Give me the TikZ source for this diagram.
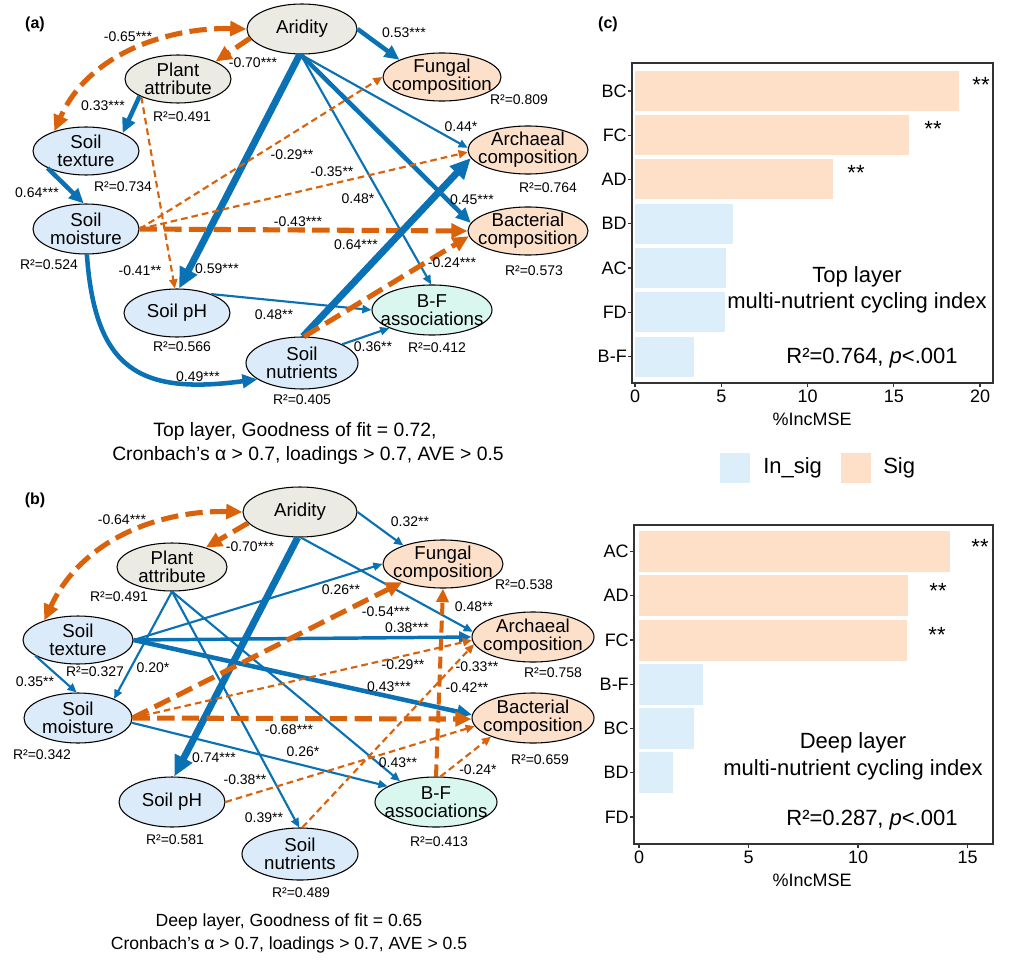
\documentclass[tikz,border=0pt]{standalone}
\usepackage{fontspec}
\setmainfont{Liberation Sans}
\usetikzlibrary{arrows.meta,shapes.geometric}
\definecolor{eblue}{HTML}{0A72B4}
\definecolor{eorg}{HTML}{D9620B}
\definecolor{fgray}{HTML}{EBEBE3}
\definecolor{fblue}{HTML}{DCEBF9}
\definecolor{forg}{HTML}{FCE0CA}
\definecolor{fmint}{HTML}{D9F7EF}
\definecolor{bsig}{HTML}{FDE0C7}
\definecolor{bins}{HTML}{DDEEFB}
\begin{document}
\begin{tikzpicture}[x=0.75pt,y=-0.75pt,
  mytip/.tip={Triangle[length=3pt 2.4,width=2.5pt 2.2]},
  elp/.style={ellipse,draw=black,line width=0.8pt,inner sep=0pt},
  sz/.style 2 args={minimum width=#1*1.5pt,minimum height=#2*1.5pt},
  ntext/.style={align=center,inner sep=0pt,font=\fontsize{14}{13.5}\selectfont},
  lab/.style={inner sep=0pt,font=\fontsize{10.5}{12}\selectfont},
  capa/.style={inner sep=0pt,font=\fontsize{14.5}{16}\selectfont},
  capb/.style={inner sep=0pt,font=\fontsize{13.2}{15}\selectfont},
  plab/.style={inner sep=0pt,font=\fontsize{12}{14}\selectfont\bfseries},
  ctext/.style={inner sep=0pt,font=\fontsize{16.5}{18}\selectfont},
  tk/.style={inner sep=0pt,font=\fontsize{13.5}{15}\selectfont},
  pedge/.style={draw=eblue,-mytip},
  w1/.style={line width=1.6pt},
  w2/.style={line width=2.6pt},
  w3/.style={line width=3.4pt},
  w4/.style={line width=5.2pt},
  nthin/.style={draw=eorg,-mytip,line width=1.6pt,dash pattern=on 5pt off 3pt},
  nmid/.style={draw=eorg,-mytip,line width=3pt,dash pattern=on 9pt off 4.5pt},
  nthick/.style={draw=eorg,-mytip,line width=3.8pt,dash pattern=on 13pt off 5.5pt}
]
\fill[white] (0,0) rectangle (1012,966);
\useasboundingbox (0,0) rectangle (1012,966);

% ---------------- panel (a)
\node[plab] (pa) at (35,24) {(a)};
\node[elp,fill=fgray,sz={55}{25},label={[ntext]center:Aridity}] (ar) at (302,29) {};
\node[elp,fill=fgray,sz={53}{24},label={[ntext]center:{Plant\\attribute}}] (pl) at (178,79) {};
\node[elp,fill=fblue,sz={53}{24},label={[ntext]center:{Soil\\texture}}] (tx) at (86,151) {};
\node[elp,fill=fblue,sz={53}{25},label={[ntext]center:{Soil\\moisture}}] (mo) at (86,229) {};
\node[elp,fill=forg,sz={59}{24},label={[ntext]center:{Fungal\\composition}}] (fu) at (442,77) {};
\node[elp,fill=forg,sz={60}{24},label={[ntext]center:{Archaeal\\composition}}] (ac) at (528,150) {};
\node[elp,fill=forg,sz={60}{24},label={[ntext]center:{Bacterial\\composition}}] (ba) at (528,231) {};
\node[elp,fill=fblue,sz={53}{24},label={[ntext]center:{Soil pH}}] (ph) at (177,313) {};
\node[elp,fill=fmint,sz={60}{25},label={[ntext]center:{B-F\\associations}}] (bf) at (432,310) {};
\node[elp,fill=fblue,sz={56}{26},label={[ntext]center:{Soil\\nutrients}}] (nu) at (302,363) {};

\draw[nthick,mytip-mytip] (ar.west) .. controls (175,27) and (90,50) .. (tx.148);
\draw[nthick] (ar.190) -- (pl.25);
\draw[pedge,w3] (pl.204) -- (tx.26);
\draw[pedge,w3] (tx.204) -- (mo.95);
\draw[nthin] (pl.206) -- (ph.95);
\draw[pedge,w4] (ar.-95) -- (ph.85);
\draw[pedge,w3] (ar.east) -- (fu.158);
\draw[pedge,w1] (ar.-93) -- (ac.178);
\draw[pedge,w3] (ar.-93) -- (ba.172);
\draw[pedge,w1] (ar.-93) -- (bf.92);
\draw[nthin] (mo.east) -- (fu.west);
\draw[nthin] (mo.east) -- (ac.182);
\draw[nthick] (mo.east) -- (ba.west);
\draw[pedge,w3] (mo.-88) .. controls (95,370) and (140,395) .. (nu.200);
\draw[pedge,w1] (ph.29) -- (bf.west);
\draw[pedge,w1] (nu.25) -- (bf.203);
\draw[pedge,w4] (nu.88) -- (ac.188);
\draw[nthick] (nu.85) -- (ba.185);

\node[lab] (a1) at (128,37) {-0.65***};
\node[lab] (a2) at (253,63) {-0.70***};
\node[lab] (a3) at (103,106) {0.33***};
\node[lab] (a4) at (37,193) {0.64***};
\node[lab] (a5) at (182,117) {R²=0.491};
\node[lab] (a6) at (123,187) {R²=0.734};
\node[lab] (a7) at (404,33) {0.53***};
\node[lab] (a8) at (519,100) {R²=0.809};
\node[lab] (a9) at (461,127) {0.44*};
\node[lab] (a10) at (292,155) {-0.29**};
\node[lab] (a11) at (332,172) {-0.35**};
\node[lab] (a12) at (358,199) {0.48*};
\node[lab] (a13) at (548,188) {R²=0.764};
\node[lab] (a14) at (472,200) {0.45***};
\node[lab] (a15) at (298,222) {-0.43***};
\node[lab] (a16) at (356,245) {0.64***};
\node[lab] (a17) at (49,265) {R²=0.524};
\node[lab] (a18) at (140,271) {-0.41**};
\node[lab] (a19) at (217,269) {0.59***};
\node[lab] (a20) at (452,263) {-0.24***};
\node[lab] (a21) at (534,271) {R²=0.573};
\node[lab] (a22) at (274,315) {0.48**};
\node[lab] (a23) at (182,347) {R²=0.566};
\node[lab] (a24) at (373,347) {0.36**};
\node[lab] (a25) at (437,348) {R²=0.412};
\node[lab] (a26) at (198,377) {0.49***};
\node[lab] (a27) at (302,400) {R²=0.405};
\node[capa] (ca1) at (295,431) {Top layer, Goodness of fit = 0.72,};
\node[capa] (ca2) at (308,455) {Cronbach’s α > 0.7, loadings > 0.7, AVE > 0.5};

% ---------------- panel (b)
\node[plab] (pb) at (35,500) {(b)};
\node[elp,fill=fgray,sz={57}{25},label={[ntext]center:Aridity}] (ar2) at (300,512) {};
\node[elp,fill=fgray,sz={55}{24},label={[ntext]center:{Plant\\attribute}}] (pl2) at (172,567) {};
\node[elp,fill=fblue,sz={55}{24},label={[ntext]center:{Soil\\texture}}] (tx2) at (78,640) {};
\node[elp,fill=fblue,sz={54}{25},label={[ntext]center:{Soil\\moisture}}] (mo2) at (78,718) {};
\node[elp,fill=forg,sz={60}{24},label={[ntext]center:{Fungal\\composition}}] (fu2) at (443,564) {};
\node[elp,fill=forg,sz={61}{25},label={[ntext]center:{Archaeal\\composition}}] (ac2) at (533,637) {};
\node[elp,fill=forg,sz={61}{25},label={[ntext]center:{Bacterial\\composition}}] (ba2) at (533,718) {};
\node[elp,fill=fblue,sz={53}{25},label={[ntext]center:{Soil pH}}] (ph2) at (172,802) {};
\node[elp,fill=fmint,sz={61}{25},label={[ntext]center:{B-F\\associations}}] (bf2) at (436,802) {};
\node[elp,fill=fblue,sz={58}{26},label={[ntext]center:{Soil\\nutrients}}] (nu2) at (300,854) {};

\draw[nthick,mytip-mytip] (ar2.west) .. controls (170,510) and (85,533) .. (tx2.150);
\draw[nthick] (ar2.192) -- (pl2.30);
\draw[pedge,w1] (tx2.200) -- (mo2.93);
\draw[pedge,w1] (pl2.south) -- (mo2.28);
\draw[pedge,w1] (pl2.south) -- (nu2.92);
\draw[pedge,w1] (pl2.south) -- (bf2.150);
\draw[pedge,w1] (mo2.-5) -- (bf2.162);
\draw[pedge,w1] (tx2.east) -- (fu2.west);
\draw[pedge,w2] (tx2.east) -- (ac2.180);
\draw[pedge,w3] (tx2.east) -- (ba2.177);
\draw[pedge,w1] (ar2.east) -- (fu2.155);
\draw[pedge,w4] (ar2.-95) -- (ph2.85);
\draw[pedge,w1] (ar2.-88) -- (ac2.175);
\draw[nthick] (mo2.east) -- (fu2.204);
\draw[nthin] (mo2.east) -- (ac2.183);
\draw[nthick] (mo2.east) -- (ba2.181);
\draw[nmid] (bf2.north) -- (fu2.south);
\draw[nthin] (bf2.80) -- (ba2.204);
\draw[nthin] (nu2.85) -- (ac2.187);
\draw[nthin] (ph2.east) -- (ba2.188);

\node[lab] (b1) at (122,520) {-0.64***};
\node[lab] (b2) at (250,547) {-0.70***};
\node[lab] (b3) at (119,597) {R²=0.491};
\node[lab] (b4) at (410,522) {0.32**};
\node[lab] (b5) at (524,585) {R²=0.538};
\node[lab] (b6) at (341,590) {0.26**};
\node[lab] (b7) at (386,612) {-0.54***};
\node[lab] (b8) at (474,607) {0.48**};
\node[lab] (b9) at (407,628) {0.38***};
\node[lab] (b10) at (95,672) {R²=0.327};
\node[lab] (b11) at (35,682) {0.35**};
\node[lab] (b12) at (153,668) {0.20*};
\node[lab] (b13) at (403,665) {-0.29**};
\node[lab] (b14) at (477,667) {-0.33**};
\node[lab] (b15) at (553,673) {R²=0.758};
\node[lab] (b16) at (389,687) {0.43***};
\node[lab] (b17) at (467,688) {-0.42**};
\node[lab] (b18) at (289,730) {-0.68***};
\node[lab] (b19) at (42,755) {R²=0.342};
\node[lab] (b20) at (303,752) {0.26*};
\node[lab] (b21) at (214,758) {0.74***};
\node[lab] (b22) at (540,760) {R²=0.659};
\node[lab] (b23) at (398,763) {0.43**};
\node[lab] (b24) at (478,770) {-0.24*};
\node[lab] (b25) at (245,780) {-0.38**};
\node[lab] (b26) at (264,818) {0.39**};
\node[lab] (b27) at (175,840) {R²=0.581};
\node[lab] (b28) at (439,842) {R²=0.413};
\node[lab] (b29) at (301,893) {R²=0.489};
\node[capb] (cb1) at (289,922) {Deep layer, Goodness of fit = 0.65};
\node[capb] (cb2) at (289,945) {Cronbach’s α > 0.7, loadings > 0.7, AVE > 0.5};

% ---------------- panel (c)
\node[plab] (pc) at (608,24) {(c)};
% top chart
\foreach \lab/\v/\c [count=\i from 0] in {BC/18.8/bsig,FC/15.9/bsig,AD/11.5/bsig,BD/5.7/bins,AC/5.3/bins,FD/5.2/bins,B-F/3.4/bins}{
  \pgfmathsetmacro{\yc}{91+44.25*\i}
  \fill[\c] (635,\yc-20) rectangle ({635+17.25*\v},\yc+20);
  \draw[line width=0.8pt,black!80] (628,\yc) -- (632,\yc);
  \node[tk,anchor=east] (ty\i) at (627,\yc) {\lab};
}
\draw[line width=1.1pt,black!80] (632,63) rectangle (993,383);
\foreach \k [count=\j from 0] in {0,5,10,15,20}{
  \draw[line width=0.8pt,black!80] ({635+17.25*\k},383) -- ({635+17.25*\k},387);
  \node[tk] (tx\j) at ({635+17.25*\k},396) {\k};
}
\node[tk] (tmse) at (812,419) {\%IncMSE};
\node[ctext,anchor=base] (ts1) at (981,93) {**};
\node[ctext,anchor=base] (ts2) at (933,137) {**};
\node[ctext,anchor=base] (ts3) at (856,181) {**};
\node[ctext] (tt1) at (857,277) {Top layer};
\node[ctext] (tt2) at (857,303) {multi-nutrient cycling index};
\node[ctext] (tt3) at (872,358) {R²=0.764, \textit{p}<.001};
% legend
\fill[bins] (720,453) rectangle (750,483);
\node[ctext,anchor=west] (lg1) at (763,468) {In\_sig};
\fill[bsig] (841,453) rectangle (871,483);
\node[ctext,anchor=west] (lg2) at (883,468) {Sig};
% bottom chart
\foreach \lab/\v/\c [count=\i from 0] in {AC/14.2/bsig,AD/12.3/bsig,FC/12.25/bsig,B-F/2.9/bins,BC/2.5/bins,BD/1.55/bins,FD/0/bins}{
  \pgfmathsetmacro{\yc}{551.5+44.25*\i}
  \fill[\c] (639,\yc-20.5) rectangle ({639+21.9*\v},\yc+20.5);
  \draw[line width=0.8pt,black!80] (630,\yc) -- (634,\yc);
  \node[tk,anchor=east] (by\i) at (629,\yc) {\lab};
}
\draw[line width=1.1pt,black!80] (634,525) rectangle (993,844);
\foreach \k [count=\j from 0] in {0,5,10,15}{
  \draw[line width=0.8pt,black!80] ({639+21.9*\k},844) -- ({639+21.9*\k},848);
  \node[tk] (bx\j) at ({639+21.9*\k},857) {\k};
}
\node[tk] (bmse) at (812,880) {\%IncMSE};
\node[ctext,anchor=base] (bs1) at (980,554) {**};
\node[ctext,anchor=base] (bs2) at (938,598) {**};
\node[ctext,anchor=base] (bs3) at (937,642) {**};
\node[ctext] (bt1) at (853,743) {Deep layer};
\node[ctext] (bt2) at (853,770) {multi-nutrient cycling index};
\node[ctext] (bt3) at (872,820) {R²=0.287, \textit{p}<.001};
\end{tikzpicture}
\end{document}
